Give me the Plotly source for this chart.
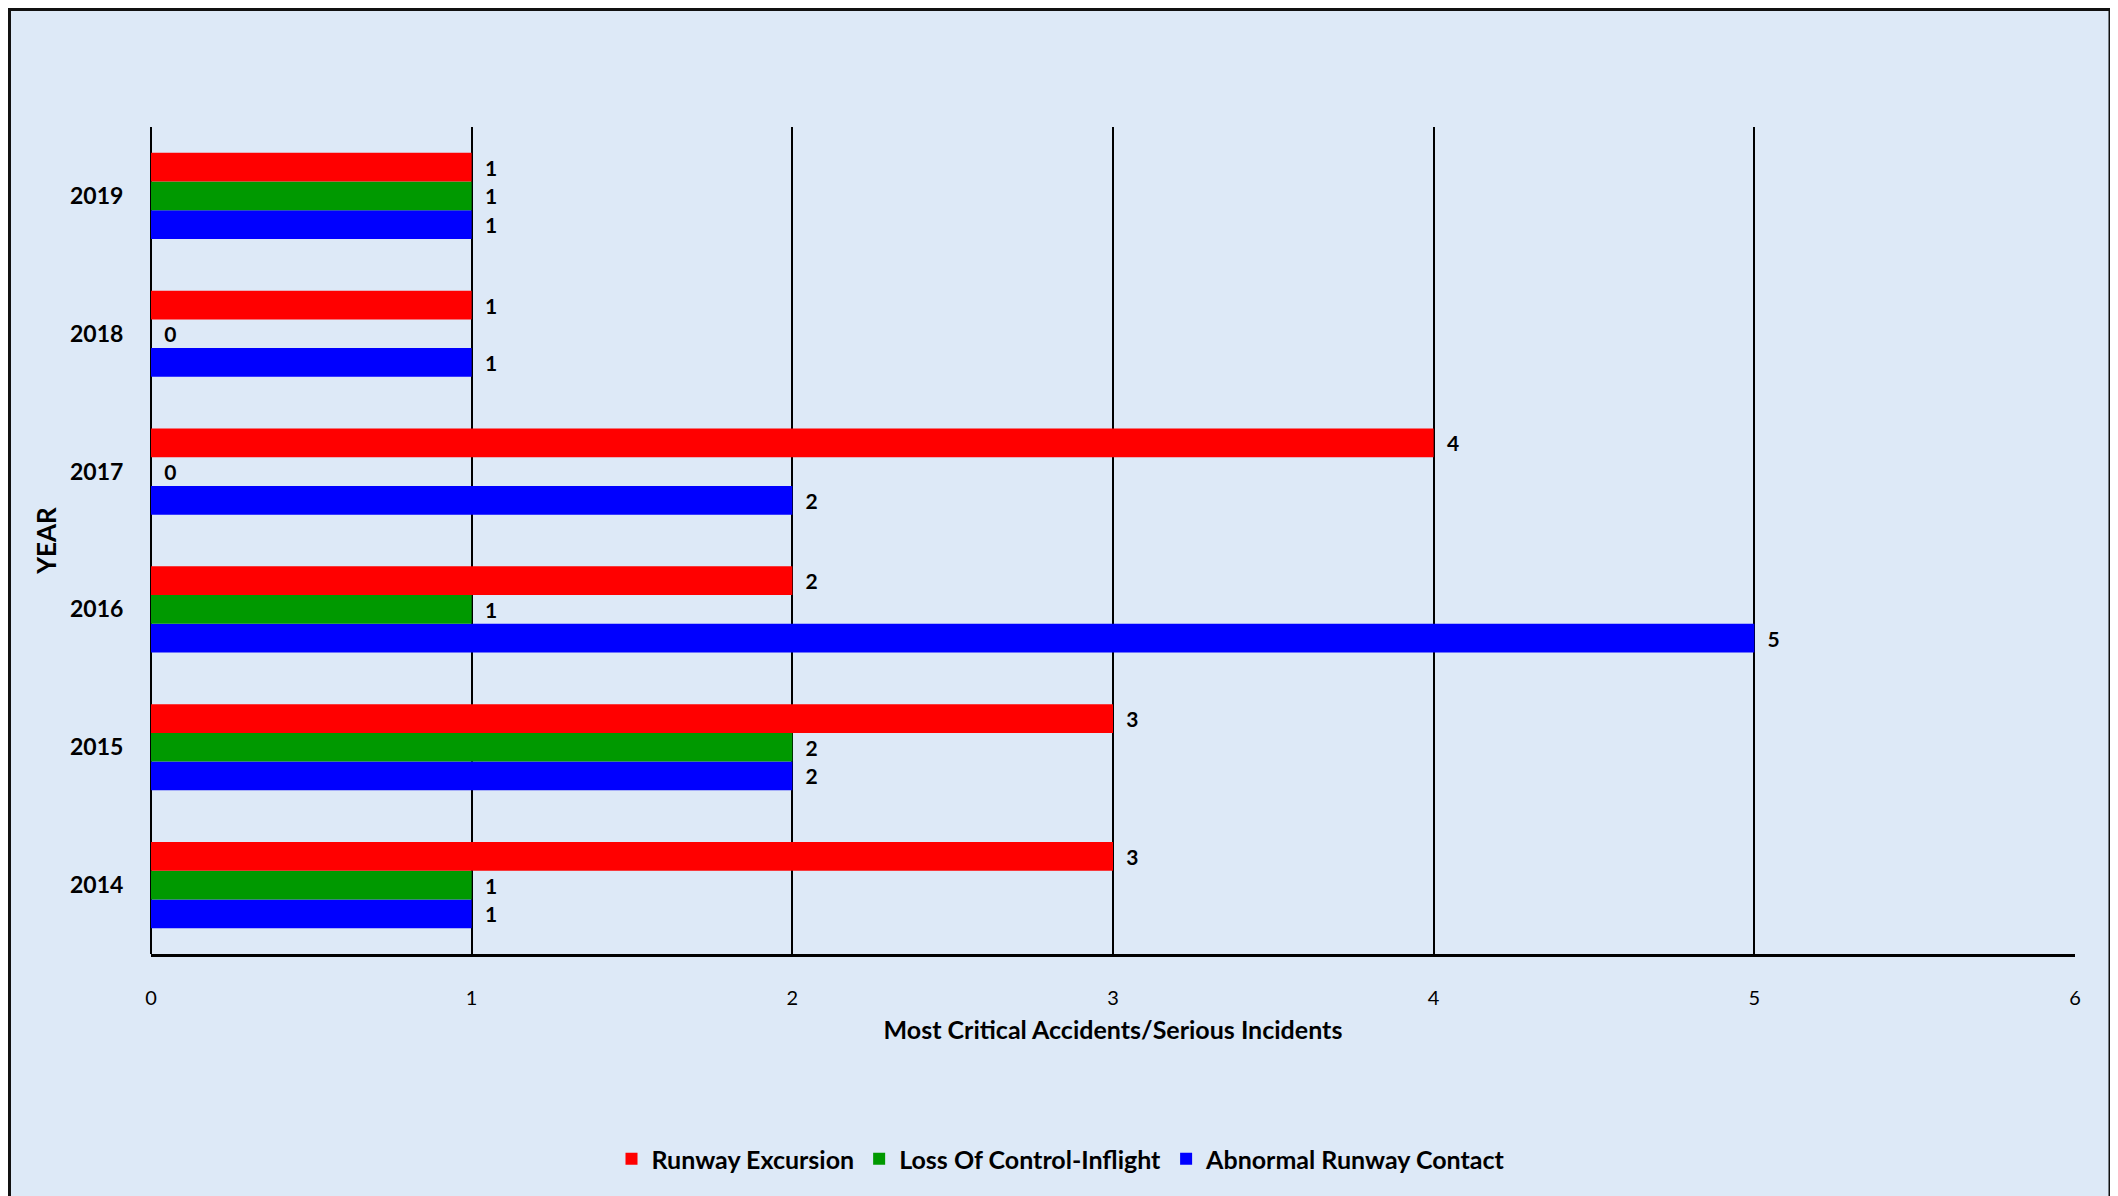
import plotly.graph_objects as go

years = ["2014", "2015", "2016", "2017", "2018", "2019"]
runway_excursion = [3, 3, 2, 4, 1, 1]
loss_of_control = [1, 2, 1, 0, 0, 1]
abnormal_contact = [1, 2, 5, 2, 1, 1]
x_ticks = [0, 1, 2, 3, 4, 5, 6]

FONT = "Lato"
W, H = 2118, 1196
OFF = 8  # page body margin
L, R, T, B = 151 - OFF, 51, 127 - OFF, 250
pw, ph = W - L - R, H - T - B


def px2x(p):  # screenshot px -> paper x
    return (p - OFF - L) / pw


def py2y(p):  # screenshot px -> paper y
    return (H - B - (p - OFF)) / ph


fig = go.Figure()
series = [
    ("Abnormal Runway Contact", abnormal_contact, "#0000ff"),
    ("Loss Of Control-Inflight", loss_of_control, "#009900"),
    ("Runway Excursion", runway_excursion, "#ff0000"),
]
for name, vals, col in series:
    fig.add_trace(go.Bar(
        name=name, y=years, x=vals, orientation="h",
        marker=dict(color=col, line=dict(width=0)),
        text=[str(v) for v in vals], texttemplate="  %{text}",
        textposition="outside",
        textfont=dict(family=FONT, size=21, color="black", weight="bold"),
        cliponaxis=False,
    ))

fig.update_layout(
    width=W, height=H,
    margin=dict(l=L, r=R, t=T, b=B),
    paper_bgcolor="#dcdcdc",
    plot_bgcolor="rgba(0,0,0,0)",
    barmode="group", bargap=0.375, bargroupgap=0,
    font=dict(family=FONT, color="black"),
    showlegend=True,
    legend=dict(
        orientation="h", traceorder="reversed",
        x=px2x(1061), xanchor="center", y=py2y(1159), yanchor="middle",
        font=dict(family=FONT, size=25, color="black", weight="bold"),
        bgcolor="rgba(0,0,0,0)",
    ),
    xaxis=dict(
        range=[0, 6], tickvals=x_ticks, ticktext=[str(t) for t in x_ticks],
        showgrid=True, gridcolor="black", gridwidth=1.5,
        zeroline=True, zerolinecolor="black", zerolinewidth=1.5,
        showline=True, linecolor="black", linewidth=2.5,
        ticks="outside", ticklen=24, tickcolor="rgba(0,0,0,0)",
        tickfont=dict(family=FONT, size=20, color="black"),
        title=dict(text="Most Critical Accidents/Serious Incidents",
                   font=dict(family=FONT, size=25, color="black", weight="bold"),
                   standoff=14),
        fixedrange=True,
    ),
    yaxis=dict(
        type="category", categoryorder="array", categoryarray=years,
        showgrid=False, zeroline=False, showline=False,
        ticks="outside", ticklen=22, tickcolor="rgba(0,0,0,0)",
        tickfont=dict(family=FONT, size=23, color="black", weight="bold"),
        title=dict(text="YEAR",
                   font=dict(family=FONT, size=26, color="black", weight="bold"),
                   standoff=5),
        fixedrange=True,
    ),
    shapes=[dict(
        type="rect", xref="paper", yref="paper", layer="below",
        x0=px2x(OFF + 1.5), x1=px2x(2110), y0=py2y(1230), y1=py2y(OFF + 1.5),
        fillcolor="#dde9f7", line=dict(color="#111111", width=3),
    )],
)

fig.write_html("out.html")
